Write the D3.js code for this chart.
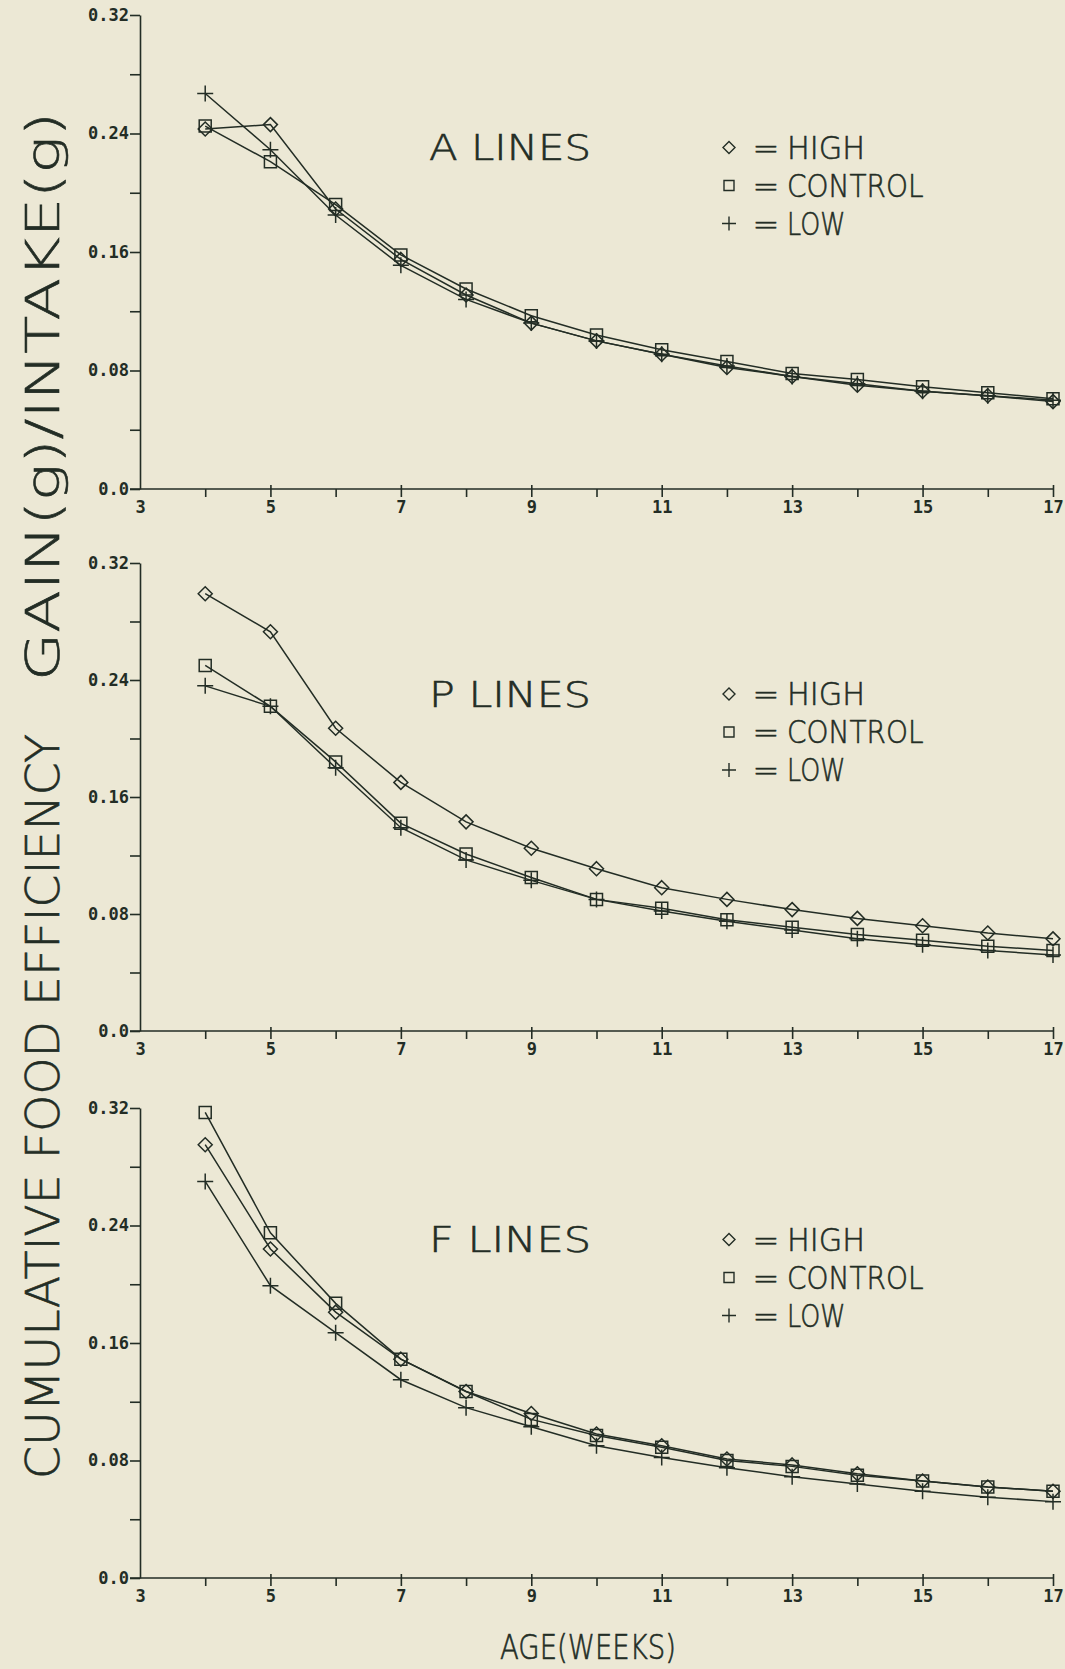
<!DOCTYPE html>
<html>
<head>
<meta charset="utf-8">
<script src="https://cdn.jsdelivr.net/npm/d3@7"></script>
<style>
  html, body { margin: 0; padding: 0; background: #ece8d5; }
  svg { display: block; }
</style>
</head>
<body>
<div id="chart"></div>
<script>
// age in weeks, one point per week
var weeks = [4, 5, 6, 7, 8, 9, 10, 11, 12, 13, 14, 15, 16, 17];
var seriesNames = ['HIGH', 'CONTROL', 'LOW'];
var panelNames = ['A LINES', 'P LINES', 'F LINES'];

// cumulative gain(g)/intake(g)
var aHigh    = [0.243, 0.246, 0.189, 0.155, 0.131, 0.112, 0.100, 0.091, 0.082, 0.076, 0.070, 0.066, 0.063, 0.059];
var aControl = [0.245, 0.221, 0.192, 0.158, 0.135, 0.117, 0.104, 0.094, 0.086, 0.078, 0.074, 0.069, 0.065, 0.061];
var aLow     = [0.267, 0.229, 0.185, 0.151, 0.128, 0.112, 0.100, 0.091, 0.083, 0.076, 0.071, 0.066, 0.063, 0.060];

var pHigh    = [0.299, 0.273, 0.207, 0.170, 0.143, 0.125, 0.111, 0.098, 0.090, 0.083, 0.077, 0.072, 0.067, 0.063];
var pControl = [0.250, 0.222, 0.184, 0.142, 0.121, 0.105, 0.090, 0.084, 0.076, 0.071, 0.066, 0.062, 0.058, 0.055];
var pLow     = [0.236, 0.222, 0.180, 0.139, 0.117, 0.103, 0.090, 0.082, 0.075, 0.069, 0.063, 0.059, 0.055, 0.052];

var fHigh    = [0.295, 0.224, 0.181, 0.149, 0.127, 0.112, 0.098, 0.090, 0.081, 0.077, 0.071, 0.066, 0.062, 0.059];
var fControl = [0.317, 0.235, 0.187, 0.149, 0.127, 0.108, 0.097, 0.089, 0.080, 0.076, 0.070, 0.066, 0.062, 0.059];
var fLow     = [0.270, 0.199, 0.167, 0.135, 0.116, 0.103, 0.090, 0.082, 0.075, 0.069, 0.064, 0.059, 0.055, 0.052];

var yTickValues = [0, 0.04, 0.08, 0.12, 0.16, 0.20, 0.24, 0.28, 0.32];
var yLabelValues = [0, 0.08, 0.16, 0.24, 0.32];
var yLabelText = ['0.0', '0.08', '0.16', '0.24', '0.32'];
var xTickValues = [3, 4, 5, 6, 7, 8, 9, 10, 11, 12, 13, 14, 15, 16, 17];
var xLabelValues = [3, 5, 7, 9, 11, 13, 15, 17];

var yTitle1 = 'CUMULATIVE FOOD EFFICIENCY';
var yTitle2 = 'GAIN(g)/INTAKE(g)';
var xTitle = 'AGE(WEEKS)';

var panelData = [
  [aHigh, aControl, aLow],
  [pHigh, pControl, pLow],
  [fHigh, fControl, fLow]
];

// layout (pixels)
var W = 1065, H = 1669;
var ink = '#232d25';
var plotFont = '"DejaVu Sans", "Liberation Sans", sans-serif';
var tickFont = '"DejaVu Sans Mono", monospace';
var xLeft = 140, xRight = 1053;
var panels = [
  {top: 15,   bottom: 489},
  {top: 563,  bottom: 1031},
  {top: 1108, bottom: 1578}
];

var svg = d3.select('#chart').append('svg')
  .attr('width', W)
  .attr('height', H);

svg.append('rect')
  .attr('width', W).attr('height', H)
  .style('fill', '#ece8d5');

var x = d3.scaleLinear().domain([3, 17]).range([xLeft, xRight]);

function symbolPath(k, s) {
  if(k == 0) return 'M0,' + (-s) + 'L' + s + ',0L0,' + s + 'L' + (-s) + ',0Z';
  if(k == 1) return 'M' + (-s) + ',' + (-s) + 'H' + s + 'V' + s + 'H' + (-s) + 'Z';
  return 'M' + (-s - 1) + ',0H' + (s + 1) + 'M0,' + (-s - 1) + 'V' + (s + 1);
}

// thin plotter-like lettering
function plotText(sel, size) {
  return sel
    .style('font-family', plotFont)
    .style('font-weight', 200)
    .style('font-size', size + 'px')
    .style('fill', ink)
    .style('stroke', ink)
    .style('stroke-width', 0.6);
}

panels.forEach(function(p, pi) {
  var y = d3.scaleLinear().domain([0, 0.32]).range([p.bottom, p.top]);
  var g = svg.append('g');

  // y axis
  var yAxis = d3.axisLeft(y)
    .tickValues(yTickValues)
    .tickSize(10)
    .tickSizeOuter(0)
    .tickPadding(1)
    .tickFormat(function(d) {
      var i = yLabelValues.indexOf(d);
      return i >= 0 ? yLabelText[i] : '';
    });
  var ya = g.append('g')
    .attr('transform', 'translate(' + xLeft + ',0)')
    .call(yAxis);
  ya.selectAll('path, line').style('stroke', ink).style('stroke-width', 1.6);
  ya.selectAll('text')
    .style('font-family', tickFont)
    .style('font-weight', 'bold')
    .style('font-size', '17px')
    .style('fill', ink);

  // x axis
  var xAxis = d3.axisBottom(x)
    .tickValues(xTickValues)
    .tickSize(8)
    .tickSizeOuter(0)
    .tickPadding(4)
    .tickFormat(function(d) { return xLabelValues.indexOf(d) >= 0 ? d : ''; });
  var xa = g.append('g')
    .attr('transform', 'translate(0,' + p.bottom + ')')
    .call(xAxis);
  xa.select('.domain').remove();
  xa.selectAll('.tick').filter(function(d) { return d == 3; }).select('line').remove();
  xa.selectAll('.tick').filter(function(d) { return d % 2 == 1; }).select('line').attr('y1', -4);
  xa.append('line')
    .attr('x1', x(3) - 10).attr('x2', x(17))
    .style('stroke', ink).style('stroke-width', 1.6);
  xa.selectAll('line').style('stroke', ink).style('stroke-width', 1.6);
  xa.selectAll('text')
    .style('font-family', tickFont)
    .style('font-weight', 'bold')
    .style('font-size', '17px')
    .style('fill', ink);

  // series
  var line = d3.line()
    .x(function(d, i) { return x(weeks[i]); })
    .y(function(d) { return y(d); });

  panelData[pi].forEach(function(vals, k) {
    g.append('path')
      .datum(vals)
      .attr('d', line)
      .style('fill', 'none')
      .style('stroke', ink)
      .style('stroke-width', 1.5);
    g.selectAll('.m' + k)
      .data(vals)
      .enter().append('path')
      .attr('class', 'm' + k)
      .attr('transform', function(d, i) { return 'translate(' + x(weeks[i]) + ',' + y(d) + ')'; })
      .attr('d', symbolPath(k, k == 1 ? 6 : 7))
      .style('fill', 'none')
      .style('stroke', ink)
      .style('stroke-width', 1.5);
  });

  // panel title
  var ty = y(0.24) + 14;
  plotText(g.append('text'), 36)
    .attr('x', 429).attr('y', ty)
    .attr('dominant-baseline', 'central')
    .attr('textLength', 162)
    .attr('lengthAdjust', 'spacingAndGlyphs')
    .text(panelNames[pi]);

  // legend
  seriesNames.forEach(function(name, k) {
    var ly = ty + k * 38;
    g.append('path')
      .attr('transform', 'translate(729,' + ly + ')')
      .attr('d', symbolPath(k, k == 1 ? 5 : 6))
      .style('fill', 'none')
      .style('stroke', ink)
      .style('stroke-width', 1.4);
    plotText(g.append('text'), 32)
      .attr('x', 766).attr('y', ly)
      .attr('text-anchor', 'middle')
      .attr('dominant-baseline', 'central')
      .text('=');
    plotText(g.append('text'), 32)
      .attr('x', 787).attr('y', ly)
      .attr('dominant-baseline', 'central')
      .attr('textLength', name.length * 19.5)
      .attr('lengthAdjust', 'spacingAndGlyphs')
      .text(name);
  });
});

// axis titles
plotText(svg.append('text'), 46)
  .attr('transform', 'translate(43,1479) rotate(-90)')
  .attr('dominant-baseline', 'central')
  .attr('textLength', 745)
  .attr('lengthAdjust', 'spacingAndGlyphs')
  .text(yTitle1);

plotText(svg.append('text'), 46)
  .attr('transform', 'translate(43,681) rotate(-90)')
  .attr('dominant-baseline', 'central')
  .attr('textLength', 569)
  .attr('lengthAdjust', 'spacingAndGlyphs')
  .text(yTitle2);

plotText(svg.append('text'), 34)
  .attr('x', 500).attr('y', 1647)
  .attr('dominant-baseline', 'central')
  .attr('textLength', 176)
  .attr('lengthAdjust', 'spacingAndGlyphs')
  .text(xTitle);
</script>
</body>
</html>
